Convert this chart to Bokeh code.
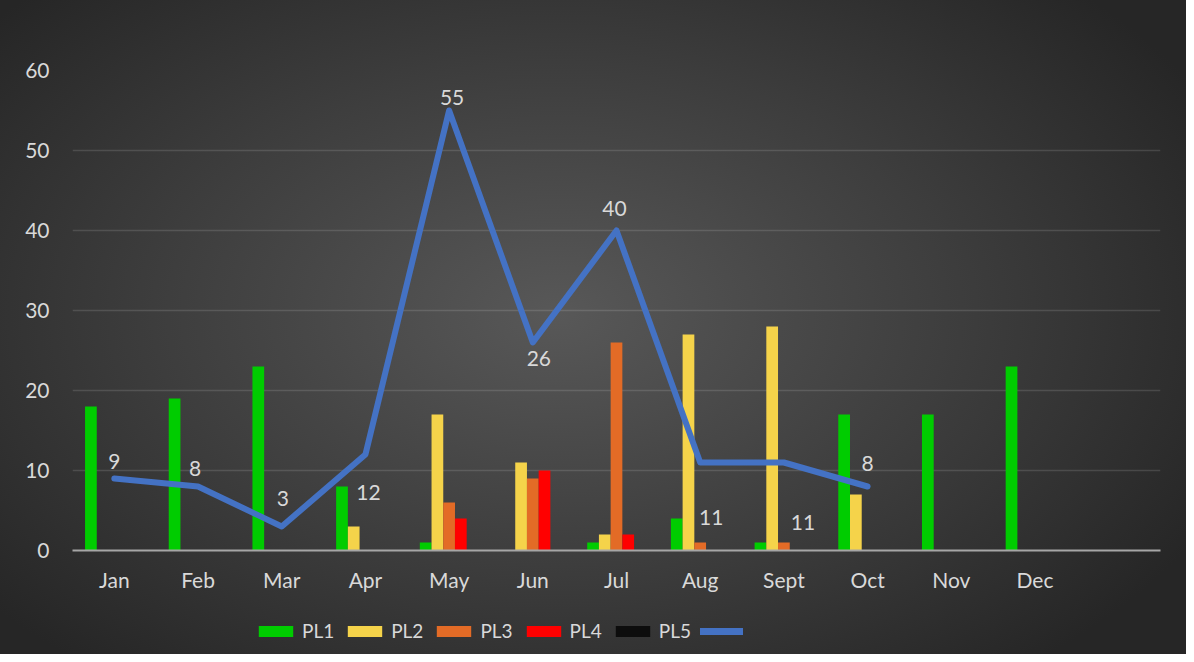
from bokeh.plotting import figure
from bokeh.layouts import column
from bokeh.models import Legend, LegendItem, Range1d, FactorRange
from bokeh.transform import dodge
from bokeh.core.properties import value
from bokeh.embed import file_html
from bokeh.resources import INLINE

# ---- data ----
months = ["Jan", "Feb", "Mar", "Apr", "May", "Jun", "Jul", "Aug", "Sept", "Oct", "Nov", "Dec"]
factors = months + [" "]
pl1 = [18, 19, 23, 8, 1, 0, 1, 4, 1, 17, 17, 23]
pl2 = [0, 0, 0, 3, 17, 11, 2, 27, 28, 7, 0, 0]
pl3 = [0, 0, 0, 0, 6, 9, 26, 1, 1, 0, 0, 0]
pl4 = [0, 0, 0, 0, 4, 10, 2, 0, 0, 0, 0, 0]
pl5 = [0, 0, 0, 0, 0, 0, 0, 0, 0, 0, 0, 0]
series_names = ["PL1", "PL2", "PL3", "PL4", "PL5"]
line_months = ["Jan", "Feb", "Mar", "Apr", "May", "Jun", "Jul", "Aug", "Sept", "Oct"]
line_vals = [9, 8, 3, 12, 55, 26, 40, 11, 11, 8]
y_ticks = [0, 10, 20, 30, 40, 50, 60]

# ---- styles ----
FONT = "Lato"
FS = "21px"
TXT = "#d9d9d9"
LINE_COLOR = "#4472c4"
colors = ["#00cc00", "#f5d34a", "#e36b26", "#ff0000", "#0d0d0d"]
offsets = [-0.28, -0.14, 0.0, 0.14, 0.28]
bar_w = 0.14
label_dx = [0, -3, 1, 3, 3, 6, -2, 11, 19, 0]
label_dy = [-17, -18, -28, 38, -13, 16, -22, 55, 60, -23]

W = 1186
MAIN_H = 606
LEG_H = 48

p = figure(x_range=FactorRange(*factors), y_range=Range1d(0, 60),
           width=W, height=MAIN_H, output_backend="svg", toolbar_location=None,
           min_border_left=72, min_border_right=26, min_border_top=70,
           min_border_bottom=56)
p.border_fill_color = None
p.background_fill_color = None
p.outline_line_color = None

for name, vals, col, off in zip(series_names, [pl1, pl2, pl3, pl4, pl5], colors, offsets):
    p.vbar(x=dodge("x", off, range=p.x_range), top="top", width=bar_w,
           source={"x": months, "top": vals},
           fill_color=col, line_color=None)

p.line(x=line_months, y=line_vals, line_width=6, line_color=LINE_COLOR,
       line_join="round", line_cap="round")

p.text(x=line_months, y=line_vals, text=[str(v) for v in line_vals],
       x_offset=label_dx, y_offset=label_dy,
       text_align="center", text_baseline="middle",
       text_font=value(FONT), text_font_size=FS, text_color=TXT)

# axes
p.xaxis.axis_line_color = "#a6a6a6"
p.xaxis.axis_line_width = 2
p.xaxis.major_tick_line_color = None
p.xaxis.minor_tick_line_color = None
p.xaxis.major_tick_out = 0
p.xaxis.major_label_standoff = 16
p.xaxis.major_label_text_font = FONT
p.xaxis.major_label_text_font_size = FS
p.xaxis.major_label_text_color = TXT

p.yaxis.ticker = y_ticks
p.yaxis.axis_line_color = None
p.yaxis.major_tick_line_color = None
p.yaxis.minor_tick_line_color = None
p.yaxis.major_tick_out = 0
p.yaxis.major_label_standoff = 23
p.yaxis.major_label_text_font = FONT
p.yaxis.major_label_text_font_size = FS
p.yaxis.major_label_text_color = TXT

p.xgrid.grid_line_color = None
p.ygrid.grid_line_color = "#ffffff"
p.ygrid.grid_line_alpha = 0.13
p.ygrid.grid_line_width = 1.5

# ---- legend strip (a second figure below the chart, frame aligned with the chart) ----
lg = figure(width=W, height=LEG_H, output_backend="svg", toolbar_location=None,
            x_axis_location=None, y_axis_location=None, min_border=0,
            x_range=Range1d(0, 1), y_range=Range1d(0, 1))
lg.border_fill_color = None
lg.background_fill_color = None
lg.outline_line_color = None
lg.grid.grid_line_color = None

# legend proxies: zero-height / single-point marks outside the visible range
leg_renderers = []
for col in colors:
    leg_renderers.append(lg.vbar(x=[-1], top=[0], width=0.1, fill_color=col, line_color=None))
leg_line = lg.line(x=[-1], y=[0], line_width=7, line_color=LINE_COLOR, line_cap="round")

items = [LegendItem(label=n, renderers=[r]) for n, r in zip(series_names, leg_renderers)]
items.append(LegendItem(label="", renderers=[leg_line]))
legend = Legend(items=items, orientation="horizontal", location=(182, 12),
                glyph_width=43, glyph_height=14, label_standoff=5, spacing=9,
                padding=0, margin=0, border_line_color=None,
                background_fill_color=None, background_fill_alpha=0,
                label_text_font=FONT, label_text_font_size="19px",
                label_text_color=TXT)
lg.add_layout(legend)

layout = column(p, lg, spacing=0,
                styles={"background": "radial-gradient(ellipse 62% 70% at 47% 48%, #585858 0%, #3d3d3d 55%, #262626 100%)"})

open("out.html", "w").write(file_html(layout, INLINE))
